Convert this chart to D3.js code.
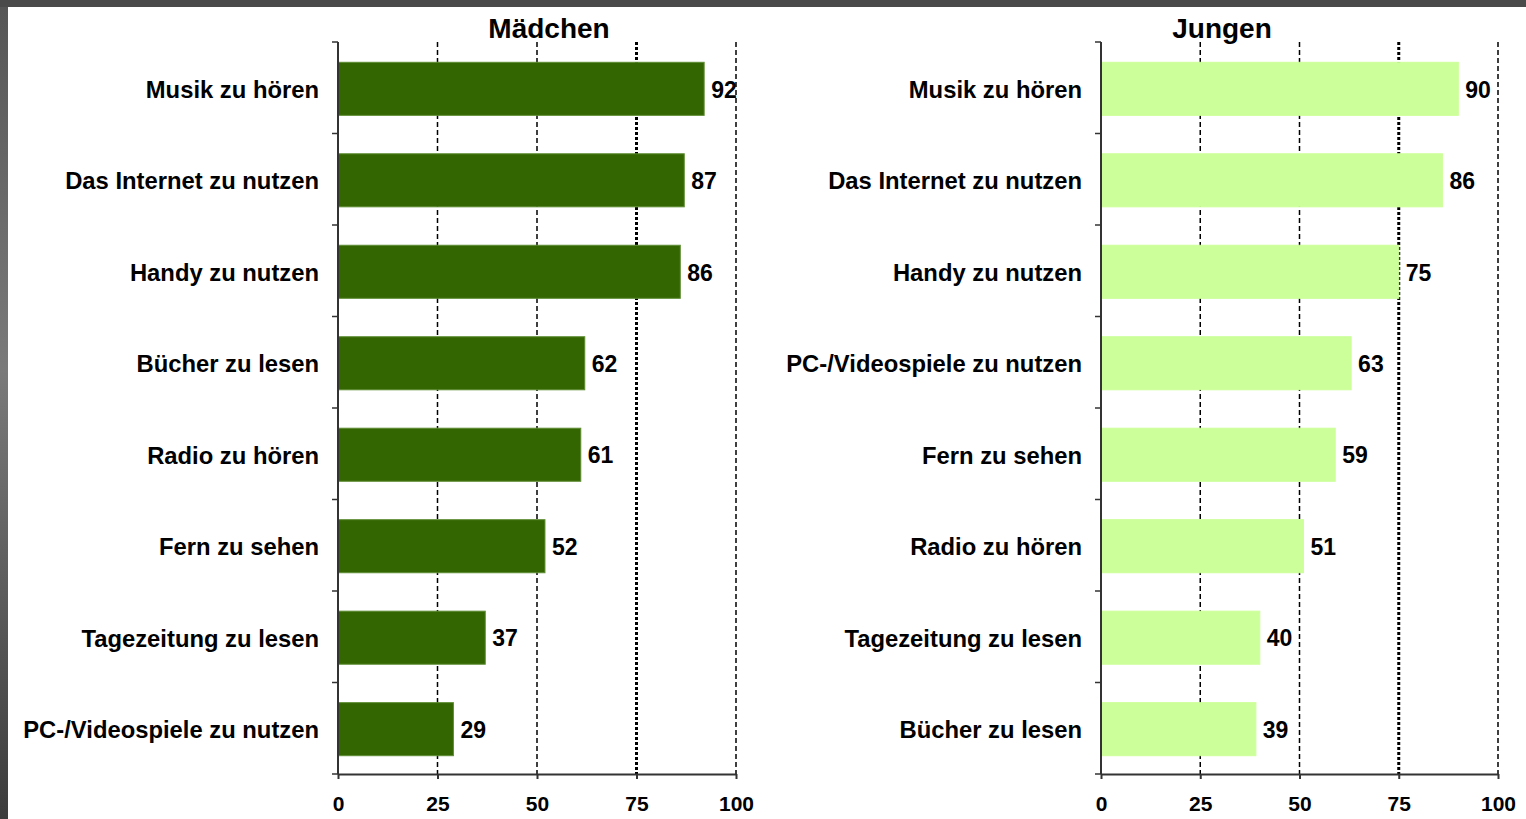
<!DOCTYPE html>
<html>
<head>
<meta charset="utf-8">
<script src="https://cdn.jsdelivr.net/npm/d3@7"></script>
<style>
  html, body { margin: 0; padding: 0; background: #fff; }
  svg { display: block; }
  text { font-family: "Liberation Sans", Arial, sans-serif; font-weight: bold; fill: #000; }
</style>
</head>
<body>
<script>
// ---- data ----
const titles = ["Mädchen", "Jungen"];
const maedchenCategories = ["Musik zu hören", "Das Internet zu nutzen", "Handy zu nutzen", "Bücher zu lesen", "Radio zu hören", "Fern zu sehen", "Tagezeitung zu lesen", "PC-/Videospiele zu nutzen"];
const maedchenValues = [92, 87, 86, 62, 61, 52, 37, 29];
const jungenCategories = ["Musik zu hören", "Das Internet zu nutzen", "Handy zu nutzen", "PC-/Videospiele zu nutzen", "Fern zu sehen", "Radio zu hören", "Tagezeitung zu lesen", "Bücher zu lesen"];
const jungenValues = [90, 86, 75, 63, 59, 51, 40, 39];
const xTicks = [0, 25, 50, 75, 100];

const W = 1526, H = 819;
const svg = d3.select("body").append("svg").attr("width", W).attr("height", H);

// frame
const defs = svg.append("defs");
const lg = defs.append("linearGradient").attr("id", "leftGrad").attr("x1", 0).attr("y1", 0).attr("x2", 0).attr("y2", 1);
lg.append("stop").attr("offset", "0%").attr("stop-color", "#555");
lg.append("stop").attr("offset", "45%").attr("stop-color", "#7a7a7a");
lg.append("stop").attr("offset", "100%").attr("stop-color", "#3c3c3c");
svg.append("rect").attr("x", 0).attr("y", 0).attr("width", W).attr("height", H).attr("fill", "#fff");
svg.append("rect").attr("x", 0).attr("y", 0).attr("width", 8).attr("height", H).attr("fill", "url(#leftGrad)");
svg.append("rect").attr("x", 0).attr("y", 0).attr("width", W).attr("height", 7).attr("fill", "#4a4a4a");

function panel(x0, x1, titleX, title, cats, vals, fill, stroke) {
  const top = 42, bottom = 774;
  const x = d3.scaleLinear().domain([0, 100]).range([x0, x1]);
  const y = d3.scaleBand().domain(cats).range([top + 2, bottom]).paddingInner(0.42).paddingOuter(0.2);
  const g = svg.append("g");

  // gridlines
  g.selectAll(".grid").data(xTicks.filter(t => t > 0)).enter().append("line")
    .attr("x1", d => x(d)).attr("x2", d => x(d))
    .attr("y1", top).attr("y2", bottom)
    .attr("stroke", "#000")
    .attr("stroke-width", d => d === 75 ? 3 : 1.5)
    .attr("stroke-dasharray", d => d === 75 ? "3,2" : "5,3");

  // bars
  g.selectAll(".bar").data(vals).enter().append("rect")
    .attr("x", x(0)).attr("y", (d, i) => y(cats[i]))
    .attr("width", d => x(d) - x(0)).attr("height", y.bandwidth())
    .attr("fill", fill).attr("stroke", stroke).attr("stroke-width", 1);

  // value labels
  g.selectAll(".val").data(vals).enter().append("text")
    .attr("x", d => x(d) + 7).attr("y", (d, i) => y(cats[i]) + y.bandwidth() / 2)
    .attr("dy", "0.38em").attr("font-size", 23).text(d => d);

  // y axis
  const step = (bottom - top) / cats.length;
  g.append("line").attr("x1", x0).attr("x2", x0).attr("y1", top).attr("y2", bottom)
    .attr("stroke", "#333").attr("stroke-width", 2);
  const bounds = d3.range(cats.length + 1).map(i => top + i * step);
  g.selectAll(".ytick").data(bounds).enter().append("line")
    .attr("x1", x0 - 6).attr("x2", x0).attr("y1", d => d).attr("y2", d => d)
    .attr("stroke", "#333").attr("stroke-width", 1.5);

  // category labels
  g.selectAll(".cat").data(cats).enter().append("text")
    .attr("x", x0 - 19).attr("y", d => y(d) + y.bandwidth() / 2)
    .attr("dy", "0.38em").attr("text-anchor", "end").attr("font-size", 23.8).text(d => d);

  // x axis
  const xa = g.append("g").attr("transform", `translate(0,${bottom})`)
    .call(d3.axisBottom(x).tickValues(xTicks).tickSize(5).tickSizeOuter(0));
  xa.select(".domain").attr("stroke", "#333").attr("stroke-width", 2);
  xa.selectAll(".tick line").attr("stroke", "#333").attr("stroke-width", 2);
  xa.selectAll(".tick text").attr("font-size", 21).attr("y", 22).attr("dy", "0.71em")
    .style("font-family", "'Liberation Sans', Arial, sans-serif").style("font-weight", "bold").attr("fill", "#000");

  // title
  svg.append("text").attr("x", titleX).attr("y", 38).attr("text-anchor", "middle")
    .attr("font-size", 28).text(title);
}

panel(338, 736, 549, titles[0], maedchenCategories, maedchenValues, "#336600", "#5e8c33");
panel(1101, 1498, 1222, titles[1], jungenCategories, jungenValues, "#ccff99", "#ccff99");
</script>
</body>
</html>
